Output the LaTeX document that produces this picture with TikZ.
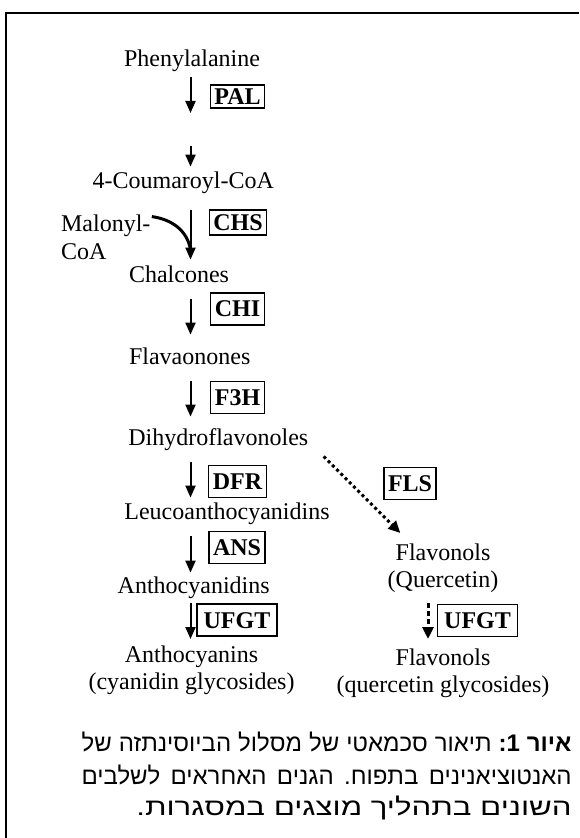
\documentclass[tikz,border=0pt]{standalone}
\usepackage{fontspec}
\setmainfont{Liberation Serif}
\newfontfamily\hebfont[Script=Hebrew]{Liberation Sans}
\newfontfamily\hebwide[Script=Hebrew,FakeStretch=1.3]{Liberation Sans}
\TeXXeTstate=1
\usetikzlibrary{arrows.meta}
\usetikzlibrary{calc}

\begin{document}
\frenchspacing
\begin{tikzpicture}[x=0.5pt,y=-0.5pt]
\tikzstyle{frame-line}=[line width=1pt]
\tikzstyle{compound}=[inner sep=0pt, font=\fontsize{12}{13.5}\selectfont, text height=8.2pt, text depth=0pt, anchor=base]
\tikzstyle{compound-two}=[inner sep=0pt, font=\fontsize{12}{13.5}\selectfont, align=center, anchor=north]
\tikzstyle{enzyme}=[rectangle, draw, line width=0.6pt, inner xsep=2pt, inner ysep=4pt, text height=8pt, text depth=0pt, font=\fontsize{12}{14}\selectfont\bfseries]
\tikzstyle{reaction}=[line width=1pt, -{Triangle[length=6pt,width=5pt]}]
\tikzstyle{malonyl-arrow}=[line width=1.5pt]
\tikzstyle{side-reaction}=[line width=1.5pt, dash pattern=on 1.5pt off 1.5pt, -{Triangle[length=6pt,width=5.5pt]}]
\tikzstyle{side-dashed}=[line width=1.5pt, dash pattern=on 2.5pt off 1.5pt, -{Triangle[length=6pt,width=5.5pt]}]
\tikzstyle{caption-line}=[inner sep=0pt, anchor=base east, font=\hebfont\fontsize{12}{16}\selectfont]

\useasboundingbox (0,0) rectangle (579,838);
\draw[frame-line] (6,838) |- (579,13);

% main column
\coordinate (axis) at (190.5,0);
\coordinate (raxis) at (428,0);
\coordinate (palEnd) at (190.5,113);
\coordinate (couStart) at (190.5,146);

\node[compound] (phe) at (192,67) {Phenylalanine};
\node[compound] (cou) at (183.3,189) {4-Coumaroyl-CoA};
\node[compound-two, anchor=north west, align=left, font=\fontsize{12}{14}\selectfont] (mal) at (60.7,214.6) {Malonyl-\\CoA};
\node[compound] (chal) at (179,283) {Chalcones};
\node[compound] (flava) at (189.7,365) {Flavaonones};
\node[compound] (dihy) at (218.3,445) {Dihydroflavonoles};
\node[compound] (leuco) at (227,519) {Leucoanthocyanidins};
\node[compound] (antho) at (193.7,593) {Anthocyanidins};
\node[compound-two] (anthoc) at (191.5,645.6) {Anthocyanins\\(cyanidin glycosides)};

% flavonol branch
\node[compound-two] (flavq) at (443,543.6) {Flavonols\\(Quercetin)};
\node[compound-two] (flavg) at (443,648.6) {Flavonols\\(quercetin glycosides)};

% enzymes
\node[enzyme, inner ysep=1.75pt] (pal) at (237.5,96.5) {PAL};
\node[enzyme, inner ysep=2.25pt] (chs) at (238,222.5) {CHS};
\node[enzyme] (chi) at (237.5,309) {CHI};
\node[enzyme] (fth) at (237.5,397.5) {F3H};
\node[enzyme] (dfr) at (237.5,481.5) {DFR};
\node[enzyme] (ans) at (237,547.5) {ANS};
\node[enzyme, minimum width=40pt] (ufgt) at (237,620) {UFGT};
\node[enzyme] (fls) at (410,483.5) {FLS};
\node[enzyme, minimum width=40pt] (ufgtb) at (477.5,620.5) {UFGT};

\draw[reaction, shorten <=5pt] (phe.south -| axis) -- (palEnd);
\draw[reaction, shorten >=2.8pt] (couStart) -- (cou.north -| axis);
\draw[reaction, shorten <=10.5pt, shorten >=3.3pt] (cou.south -| axis) -- (chal.north -| axis);
\draw[malonyl-arrow] ([xshift=0.5pt,yshift=-1pt]mal.north east) to[out=-8,in=100] ($(chal.north -| axis)+(0,-16.6)$);
\draw[reaction, shorten <=8pt, shorten >=6.8pt] (chal.south -| axis) -- (flava.north -| axis);
\draw[reaction, shorten <=8pt, shorten >=5.8pt] (flava.south -| axis) -- (dihy.north -| axis);
\draw[reaction, shorten <=8.5pt, shorten >=2.3pt] (dihy.south -| axis) -- (leuco.north -| axis);
\draw[reaction, shorten <=8.5pt, shorten >=1.8pt] (leuco.south -| axis) -- (antho.north -| axis);
\draw[reaction, shorten <=5pt, shorten >=3.3pt] (antho.south -| axis) -- (anthoc.north -| axis);
\draw[side-reaction] ([xshift=7.5pt,yshift=-5.5pt]dihy.south east) -- ([xshift=6.5pt,yshift=5.3pt]flavq.north west);
\draw[side-dashed, shorten <=5pt, shorten >=4.8pt] (flavq.south -| raxis) -- (flavg.north -| raxis);

% caption
\node[caption-line] (capa) at (572,751) {\hbox to 245pt{\beginR\textbf{איור \beginL1\endL:} תיאור סכמאטי של מסלול הביוסינתזה של\endR}};
\node[caption-line] (capb) at (572,784) {\hbox to 245pt{\beginR האנטוציאנינים בתפוח. הגנים האחראים לשלבים\endR}};
\node[caption-line] (capc) at (572,815) {\hebwide\beginR השונים בתהליך מוצגים במסגרות.\endR};

\end{tikzpicture}
\end{document}
